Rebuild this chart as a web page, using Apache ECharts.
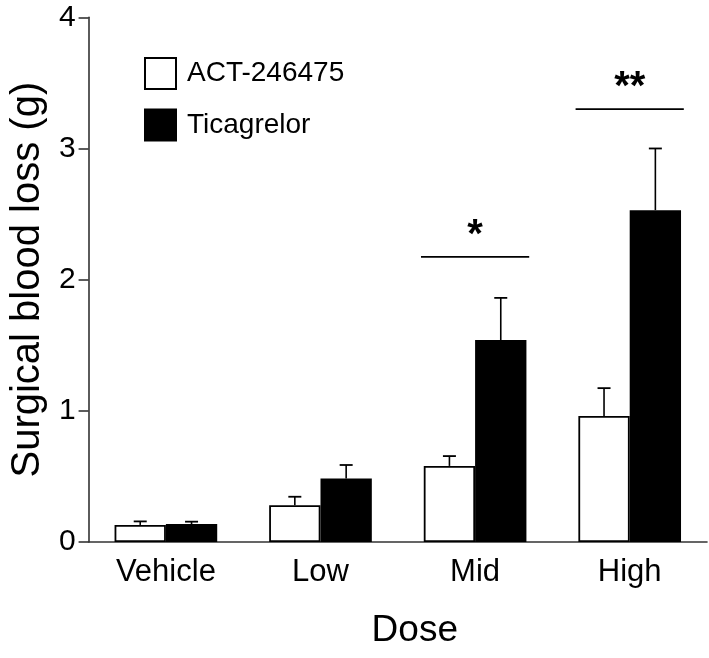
<!DOCTYPE html>
<html>
<head>
<meta charset="utf-8">
<script src="https://cdn.jsdelivr.net/npm/echarts@6/dist/echarts.min.js"></script>
<style>
html,body{margin:0;padding:0;background:#fff;}
#chart{width:709px;height:658px;}
</style>
</head>
<body>
<div id="chart"></div>
<script>
// ---- data ----
var categories = ['Vehicle', 'Low', 'Mid', 'High'];
var seriesNames = ['ACT-246475', 'Ticagrelor'];
var actMean = [0.13, 0.28, 0.58, 0.96];
var actUpper = [0.157, 0.345, 0.655, 1.173];
var ticaMean = [0.137, 0.485, 1.54, 2.53];
var ticaUpper = [0.155, 0.587, 1.861, 3.0];
var sigIndex = [2, 3];
var sigLevel = [2.174, 3.3];
var sigText = ['*', '**'];
var yTicks = [0, 1, 2, 3, 4];

var FONT = "'Liberation Sans', Arial, Helvetica, sans-serif";
var chart = echarts.init(document.getElementById('chart'), null, {renderer: 'canvas'});

function errData(means, uppers) {
  return means.map(function (m, i) { return [i, m, uppers[i]]; });
}

function errRender(sign) {
  return function (params, api) {
    var i = api.value(0);
    var band = api.size([1, 0])[0];
    var base = api.coord([i, api.value(1)]);
    var top = api.coord([i, api.value(2)]);
    var x = base[0] + sign * band * 0.166;
    var half = 6.5;
    return {
      type: 'group',
      children: [
        {type: 'line', shape: {x1: x, y1: base[1], x2: x, y2: top[1]}, style: {stroke: '#000', lineWidth: 1.6}},
        {type: 'line', shape: {x1: x - half, y1: top[1], x2: x + half, y2: top[1]}, style: {stroke: '#000', lineWidth: 1.8}}
      ]
    };
  };
}

var sigData = sigIndex.map(function (c, i) { return [c, sigLevel[i], sigText[i]]; });

var option = {
  backgroundColor: '#fff',
  animation: false,
  textStyle: {fontFamily: FONT},
  grid: {left: 84, right: 2, top: 17.3, bottom: 116, containLabel: false},
  legend: {
    orient: 'vertical',
    left: 139,
    top: 52,
    itemWidth: 31,
    itemHeight: 31,
    itemGap: 18.5,
    textStyle: {fontSize: 28, color: '#000', fontFamily: FONT, padding: [0, 0, 0, 6]},
    data: seriesNames.map(function (n) { return {name: n, icon: 'rect'}; })
  },
  xAxis: {
    type: 'category',
    data: categories,
    name: 'Dose',
    nameLocation: 'middle',
    nameGap: 70,
    nameTextStyle: {fontSize: 37, color: '#000', fontFamily: FONT, padding: [0, 0, 0, 34]},
    axisLine: {lineStyle: {color: '#333', width: 1.6}},
    axisTick: {alignWithLabel: true, length: 9, lineStyle: {color: '#333', width: 1.6}},
    axisLabel: {fontSize: 31, color: '#000', margin: 15, fontFamily: FONT}
  },
  yAxis: {
    type: 'value',
    min: 0,
    max: 4,
    interval: 1,
    name: 'Surgical blood loss (g)',
    nameLocation: 'middle',
    nameGap: 38,
    nameTextStyle: {fontSize: 40, color: '#000', fontFamily: FONT},
    axisLine: {show: true, lineStyle: {color: '#333', width: 1.6}},
    axisTick: {show: true, length: 10, lineStyle: {color: '#333', width: 1.6}},
    axisLabel: {fontSize: 30, color: '#000', margin: 13, fontFamily: FONT,
      formatter: function (v) { return yTicks.indexOf(v) >= 0 ? String(v) : ''; }},
    splitLine: {show: false}
  },
  series: [
    {
      name: seriesNames[0],
      type: 'bar',
      data: actMean,
      barWidth: '33.2%',
      barGap: '0%',
      itemStyle: {color: '#fff', borderColor: '#000', borderWidth: 1.8},
      z: 2
    },
    {
      name: seriesNames[1],
      type: 'bar',
      data: ticaMean,
      barWidth: '33.2%',
      barGap: '0%',
      itemStyle: {color: '#000', borderColor: '#000', borderWidth: 1.8},
      z: 2
    },
    {
      type: 'custom',
      name: 'errA',
      data: errData(actMean, actUpper),
      renderItem: errRender(-1),
      encode: {x: 0, y: [1, 2]},
      z: 3,
      silent: true
    },
    {
      type: 'custom',
      name: 'errT',
      data: errData(ticaMean, ticaUpper),
      renderItem: errRender(1),
      encode: {x: 0, y: [1, 2]},
      z: 3,
      silent: true
    },
    {
      type: 'custom',
      name: 'sig',
      data: sigData,
      encode: {x: 0, y: 1},
      silent: true,
      z: 4,
      renderItem: function (params, api) {
        var i = api.value(0);
        var band = api.size([1, 0])[0];
        var p = api.coord([i, api.value(1)]);
        var hw = band * 0.35;
        return {
          type: 'group',
          children: [
            {type: 'line', shape: {x1: p[0] - hw, y1: p[1], x2: p[0] + hw, y2: p[1]}, style: {stroke: '#000', lineWidth: 1.6}},
            {type: 'text', style: {text: sigData[params.dataIndex][2], x: p[0], y: p[1] - 21, align: 'center', verticalAlign: 'middle', fontSize: 40, fontWeight: 'bold', fontFamily: FONT, fill: '#000'}}
          ]
        };
      }
    }
  ]
};
chart.setOption(option);
</script>
</body>
</html>
